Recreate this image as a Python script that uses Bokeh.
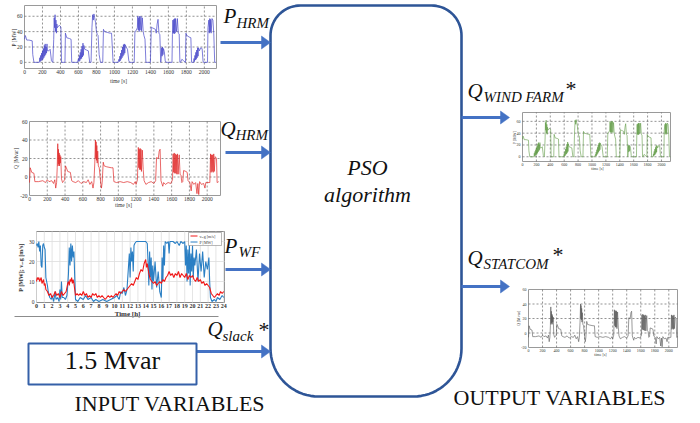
import numpy as np
from bokeh.plotting import figure
from bokeh.models import Range1d
from bokeh.embed import file_html
from bokeh.resources import INLINE
from bokeh.core.properties import value

# ---------------- data ----------------
HRM_XTICKS = [0, 200, 400, 600, 800, 1000, 1200, 1400, 1600, 1800, 2000]
P_YTICKS = [0, 20, 40, 60]
Q_YTICKS = [-20, 0, 20, 40, 60]
WF_XTICKS = list(range(25))
WF_YTICKS = [0, 10, 20, 30]

# P_HRM [MW] vs time [s]
P_HRM_PTS = [
    (0, 30), (8, 35), (15, 33), (25, 29), (50, 29), (86, 28), (92, 10), (105, 0), (160, 0),
    (165, 0), (170, 6), (175, 1), (180, 9), (185, 2), (190, 12), (195, 3), (200, 15), (205, 4),
    (210, 18), (215, 6), (220, 22), (225, 8), (230, 24), (235, 10), (240, 20), (245, 12),
    (250, 24), (255, 15), (270, 15), (285, 17), (300, 2), (315, 0), (325, 30), (330, 58),
    (335, 45), (340, 62), (345, 40), (350, 55), (355, 38), (360, 50), (365, 45), (375, 47),
    (390, 48), (405, 46), (412, 0), (450, 0), (455, 38), (470, 32), (500, 31), (518, 30),
    (525, 0), (590, 0), (600, 5), (605, 1), (610, 9), (615, 2), (620, 13), (625, 4), (630, 17),
    (635, 5), (640, 21), (645, 7), (650, 25), (655, 9), (660, 22), (670, 17), (690, 16),
    (710, 15), (725, 0), (740, 0), (750, 45), (758, 62), (765, 55), (772, 63), (780, 58),
    (790, 52), (800, 40), (810, 36), (818, 35), (830, 10), (845, 0), (870, 0), (878, 43),
    (890, 40), (920, 39), (950, 38), (968, 38), (985, 0), (1040, 0), (1050, 4), (1055, 1),
    (1060, 8), (1065, 2), (1070, 12), (1075, 4), (1080, 16), (1085, 6), (1090, 20), (1095, 8),
    (1100, 23), (1105, 10), (1110, 24), (1115, 12), (1120, 23), (1130, 20), (1145, 17),
    (1160, 2), (1170, 0), (1220, 0), (1228, 40), (1240, 41), (1255, 45), (1260, 60),
    (1265, 42), (1270, 58), (1275, 40), (1280, 60), (1285, 42), (1295, 60), (1300, 41),
    (1310, 58), (1320, 40), (1328, 35), (1340, 30), (1350, 0), (1400, 0), (1410, 46),
    (1420, 45), (1440, 44), (1455, 43), (1465, 38), (1475, 50), (1485, 56), (1495, 38),
    (1505, 36), (1515, 0), (1520, 5), (1525, 19), (1530, 8), (1535, 20), (1540, 10),
    (1545, 18), (1555, 14), (1565, 2), (1575, 0), (1640, 0), (1645, 36), (1650, 55),
    (1655, 38), (1660, 56), (1665, 37), (1670, 57), (1675, 38), (1680, 57), (1690, 40),
    (1700, 57), (1710, 38), (1720, 37), (1728, 0), (1735, 0), (1750, 4), (1770, 2),
    (1790, 0), (1795, 38), (1805, 35), (1830, 33), (1850, 32), (1858, 0), (1880, 0),
    (1885, 5), (1890, 1), (1895, 9), (1900, 3), (1905, 13), (1910, 4), (1915, 16), (1920, 6),
    (1925, 19), (1930, 8), (1935, 19), (1945, 15), (1960, 19), (1975, 18), (1985, 2),
    (1990, 0), (2035, 0), (2040, 45), (2050, 55), (2055, 38), (2060, 57), (2065, 40),
    (2070, 56), (2075, 38), (2085, 57), (2095, 55), (2105, 37), (2115, 0), (2130, 0),
]

# Q_HRM [Mvar] vs time [s]
Q_HRM_PTS = [
    (0, -6), (8, 10), (15, 8), (25, 5), (50, 4), (60, -5), (100, -5), (150, -4), (180, -6),
    (200, -3), (220, -5), (250, -4), (270, -7), (285, -3), (295, -12), (305, -6), (312, 10),
    (318, 36), (322, 12), (326, 30), (330, 14), (334, 26), (338, 12), (342, 24), (346, 15),
    (352, 22), (360, -2), (372, -6), (380, -5), (395, -3), (405, 12), (415, 10), (430, 6),
    (460, 5), (475, -4), (490, -5), (520, -6), (550, -4), (580, -7), (610, -5), (640, -6),
    (660, -3), (680, -8), (700, -5), (715, -12), (725, -6), (735, 15), (742, 40), (746, 20),
    (750, 38), (754, 18), (758, 34), (762, 15), (768, 28), (775, 12), (785, 10), (800, -5),
    (810, -12), (818, -6), (830, 16), (840, 12), (870, 11), (920, 10), (940, 10), (950, -5),
    (980, -6), (1020, -5), (1060, -6), (1100, -5), (1140, -6), (1170, -8), (1190, -5),
    (1200, -8), (1215, -3), (1225, 32), (1230, 10), (1235, 30), (1240, 8), (1245, 31),
    (1250, 8), (1255, 30), (1260, 6), (1270, 29), (1280, 8), (1290, -4), (1310, -8),
    (1340, -6), (1370, -5), (1400, -7), (1420, -4), (1430, 21), (1450, 20), (1460, 28),
    (1470, 30), (1480, -4), (1500, -10), (1510, -6), (1530, -8), (1560, -6), (1590, -7),
    (1610, -3), (1617, 25), (1623, 5), (1629, 26), (1635, 4), (1641, 25), (1647, 4),
    (1653, 24), (1659, 3), (1665, 25), (1673, 3), (1685, 24), (1695, 3), (1705, 2),
    (1715, -6), (1725, -5), (1735, 7), (1760, 6), (1775, 5), (1785, -4), (1805, -6),
    (1820, -15), (1830, -5), (1850, -8), (1870, -6), (1885, -18), (1895, -7), (1905, -19),
    (1915, -5), (1935, -8), (1960, -7), (1975, -12), (1985, -6), (2030, -6), (2038, 25),
    (2044, 5), (2050, 24), (2056, 6), (2062, 24), (2068, 5), (2074, 25), (2080, 6),
    (2090, 22), (2105, 20), (2112, -6), (2130, -5),
]

# wind farm: P [MW] vs hour
WF_P_PTS = [
    (0, 28), (0.1, 29), (0.2, 27), (0.3, 30), (0.4, 25), (0.5, 28), (0.6, 18), (0.7, 17),
    (0.8, 28), (0.9, 29), (1.0, 27), (1.1, 26), (1.2, 12), (1.4, 8), (1.5, 5), (1.7, 2),
    (1.9, 1), (2.0, 3), (2.2, 0), (2.4, 5), (2.5, 1), (2.7, 2), (2.9, 0), (3.0, 6), (3.1, 1),
    (3.2, 10), (3.3, 2), (3.5, 2), (3.7, 1), (3.9, 3), (4.0, 8), (4.1, 14), (4.2, 27),
    (4.3, 18), (4.4, 29), (4.5, 20), (4.6, 28), (4.7, 22), (4.8, 25), (4.9, 12), (5.0, 1),
    (5.3, 0), (5.6, 2), (6.0, 1), (6.3, 3), (6.6, 1), (7.0, 2), (7.3, 0), (7.6, 1), (8.0, 0),
    (8.5, 1), (9.0, 0), (9.5, 1), (10.0, 2), (10.3, 3), (10.6, 1), (10.8, 5), (11.0, 4),
    (11.2, 7), (11.4, 3), (11.6, 6), (11.8, 18), (11.9, 24), (12.0, 12), (12.1, 27),
    (12.2, 20), (12.3, 25), (12.4, 15), (12.5, 28), (12.6, 29), (12.8, 30), (13.0, 30),
    (13.5, 30), (14.0, 30), (14.2, 29), (14.3, 20), (14.4, 8), (14.5, 25), (14.6, 12),
    (14.7, 22), (14.8, 6), (14.9, 18), (15.0, 10), (15.2, 20), (15.4, 7), (15.6, 15),
    (15.8, 5), (16.0, 2), (16.1, 22), (16.2, 10), (16.3, 28), (16.4, 18), (16.5, 30),
    (16.7, 29), (16.9, 30), (17.0, 24), (17.1, 30), (17.5, 30), (17.8, 29), (18.0, 30),
    (18.3, 28), (18.5, 30), (18.8, 29), (19.0, 30), (19.1, 18), (19.2, 28), (19.3, 10),
    (19.4, 26), (19.5, 14), (19.6, 29), (19.7, 8), (19.8, 24), (19.9, 15), (20.0, 28),
    (20.1, 12), (20.2, 22), (20.3, 18), (20.5, 26), (20.7, 10), (20.9, 24), (21.1, 15),
    (21.3, 25), (21.5, 12), (21.7, 20), (21.9, 16), (22.1, 22), (22.2, 10), (22.3, 2),
    (22.5, 0), (22.8, 1), (23.0, 0), (23.2, 2), (23.5, 1), (23.8, 3), (24.0, 2),
]

# wind farm: v_avg [m/s] vs hour
WF_V_PTS = [
    (0, 10), (0.1, 12), (0.2, 11), (0.3, 12), (0.4, 10), (0.5, 11), (0.6, 12), (0.7, 9),
    (0.8, 10), (0.9, 11), (1.0, 8), (1.1, 9), (1.2, 6), (1.4, 5), (1.6, 3), (1.8, 4), (2.0, 2),
    (2.2, 3), (2.4, 5), (2.6, 3), (2.8, 4), (3.0, 2), (3.2, 5), (3.4, 3), (3.6, 4), (3.8, 5),
    (4.0, 9), (4.1, 10), (4.2, 8), (4.3, 11), (4.4, 10), (4.5, 12), (4.6, 9), (4.7, 11),
    (4.8, 9), (4.9, 6), (5.0, 3), (5.2, 4), (5.4, 3), (5.6, 4), (5.8, 3), (6.0, 5), (6.2, 3),
    (6.4, 4), (6.6, 2), (6.8, 3), (7.0, 2), (7.2, 4), (7.4, 3), (7.6, 4), (7.8, 2), (8.0, 3),
    (8.2, 2), (8.4, 3), (8.6, 2), (8.8, 1), (9.0, 2), (9.2, 3), (9.4, 2), (9.6, 3), (9.8, 2),
    (10.0, 3), (10.2, 4), (10.4, 3), (10.6, 5), (10.8, 4), (11.0, 5), (11.2, 6), (11.4, 5),
    (11.6, 6), (11.8, 7), (12.0, 8), (12.2, 9), (12.4, 8), (12.6, 10), (12.8, 12), (13.0, 11),
    (13.2, 14), (13.4, 16), (13.6, 15), (13.8, 19), (14.0, 21), (14.1, 17), (14.2, 19),
    (14.4, 14), (14.6, 11), (14.8, 10), (15.0, 9), (15.2, 10), (15.4, 8), (15.6, 9),
    (15.8, 10), (16.0, 9), (16.2, 11), (16.4, 10), (16.6, 12), (16.8, 13), (17.0, 15),
    (17.2, 13), (17.4, 14), (17.6, 12), (17.8, 14), (18.0, 13), (18.2, 15), (18.4, 12),
    (18.6, 14), (18.8, 13), (19.0, 12), (19.2, 14), (19.4, 11), (19.6, 13), (19.8, 12),
    (20.0, 13), (20.2, 11), (20.4, 10), (20.6, 12), (20.8, 10), (21.0, 11), (21.2, 9),
    (21.4, 10), (21.6, 8), (21.8, 9), (22.0, 8), (22.2, 7), (22.4, 4), (22.6, 3), (22.8, 2),
    (23.0, 3), (23.2, 4), (23.4, 3), (23.6, 5), (23.8, 4), (24.0, 5),
]

P_HRM_T, P_HRM_V = zip(*P_HRM_PTS)
Q_HRM_T, Q_HRM_V = zip(*Q_HRM_PTS)
WF_P_H, WF_P = zip(*WF_P_PTS)
WF_V_H, WF_V = zip(*WF_V_PTS)

# ---------------- canvas ----------------
W, H = 692, 415
X0, X1 = 0, 692
YB, YT = 415, 0
SERIF = value("Liberation Serif")
BASE_SHIFT = 0.47  # correction so that the given y is the visual baseline

p = figure(width=W, height=H, x_range=Range1d(X0, X1), y_range=Range1d(YB, YT),
           output_backend="svg", toolbar_location=None, min_border=0,
           x_axis_type=None, y_axis_type=None)
p.grid.visible = False
p.outline_line_color = None
p.background_fill_color = "white"


def label(xs, ys, texts, size, style="normal", align="left"):
    p.text(x=list(xs), y=[y - BASE_SHIFT * size for y in ys], text=list(texts),
           text_align=align, text_baseline="alphabetic", text_font=SERIF,
           text_font_style=style, text_font_size=f"{size}px", text_color="#111111")


def add_inset(name, box, xr, yr):
    px0, px1, py0, py1 = box
    dx0, dx1 = xr
    dy0, dy1 = yr
    sx = (dx1 - dx0) / (px1 - px0)
    p.extra_x_ranges[name] = Range1d(dx0 - (px0 - X0) * sx, dx1 + (X1 - px1) * sx)
    sy = (dy1 - dy0) / (py1 - py0)
    p.extra_y_ranges[name] = Range1d(dy0 - (YB - py1) * sy, dy1 + (py0 - YT) * sy)
    return dict(x_range_name=name, y_range_name=name)


def hrm_inset(name, box, xr, yr, xs, ys, color, yticks, fs, ylabel, ylab_xy, xlab_xy, lw=0.8):
    kw = add_inset(name, box, xr, yr)
    p.quad(left=[xr[0]], right=[xr[1]], bottom=[yr[0]], top=[yr[1]],
           fill_color="white", line_color="#9a9a9a", line_width=1, **kw)
    gx = [t for t in HRM_XTICKS if t > xr[0]]
    p.segment(x0=gx, x1=gx, y0=[yr[0]] * len(gx), y1=[yr[1]] * len(gx),
              line_color="#666666", line_width=0.7, line_dash="2 2", **kw)
    gy = [t for t in yticks if yr[0] < t < yr[1]]
    p.segment(x0=[xr[0]] * len(gy), x1=[xr[1]] * len(gy), y0=gy, y1=gy,
              line_color="#666666", line_width=0.7, line_dash="2 2", **kw)
    p.line(list(xs), list(ys), line_color=color, line_width=lw, **kw)
    p.text(x=HRM_XTICKS, y=[yr[0]] * len(HRM_XTICKS), text=[str(t) for t in HRM_XTICKS],
           text_align="center", text_baseline="top", y_offset=1.5, text_font=SERIF,
           text_font_size=f"{fs}px", text_color="#333333", **kw)
    p.text(x=[xr[0]] * len(yticks), y=yticks, text=[str(t) for t in yticks],
           text_align="right", text_baseline="middle", x_offset=-2, text_font=SERIF,
           text_font_size=f"{fs}px", text_color="#333333", **kw)
    p.text(x=[ylab_xy[0]], y=[ylab_xy[1]], text=[ylabel], angle=np.pi / 2,
           text_align="center", text_baseline="middle", text_font=SERIF,
           text_font_size=f"{fs}px", text_color="#333333")
    p.text(x=[xlab_xy[0]], y=[xlab_xy[1]], text=["time [s]"], text_align="center",
           text_baseline="middle", text_font=SERIF, text_font_size=f"{fs}px",
           text_color="#333333")


# input insets
hrm_inset("phrm", (24, 216, 5, 68), (0, 2135), (-8, 74), P_HRM_T, P_HRM_V, "#4646c8",
          P_YTICKS, 5.5, "P [MW]", (13, 37), (118, 80), lw=0.7)
hrm_inset("qhrm", (29, 220, 121, 195), (0, 2150), (-20, 60), Q_HRM_T, Q_HRM_V, "#e02828",
          Q_YTICKS, 5.5, "Q [Mvar]", (15, 158), (123, 204), lw=0.7)
# output insets
hrm_inset("qwf", (522, 670, 112, 161), (0, 2130), (-8, 75), P_HRM_T, P_HRM_V, "#5f9a45",
          P_YTICKS, 4, "P [MW]", (514, 137), (597, 168), lw=0.6)
hrm_inset("qst", (528, 677, 289, 347), (0, 2124), (-20, 60), Q_HRM_T, Q_HRM_V, "#555555",
          Q_YTICKS, 4, "Q [Mvar]", (518, 318), (600, 354), lw=0.6)

# wind farm inset
kw = add_inset("pwf", (36, 224, 231, 302), (0, 24.1), (-0.5, 35))
p.quad(left=[0], right=[24.1], bottom=[-0.5], top=[35], fill_color="white",
       line_color="#8a8a8a", line_width=1, **kw)
p.segment(x0=WF_XTICKS, x1=WF_XTICKS, y0=[-0.5] * 25, y1=[35] * 25,
          line_color="#dddddd", line_width=0.8, **kw)
p.segment(x0=[0] * 3, x1=[24.1] * 3, y0=WF_YTICKS[1:], y1=WF_YTICKS[1:],
          line_color="#dddddd", line_width=0.8, **kw)
p.line(list(WF_P_H), list(WF_P), line_color="#2a7fc4", line_width=1.1, **kw)
p.line(list(WF_V_H), list(WF_V), line_color="#f01818", line_width=1.1, **kw)
p.text(x=WF_XTICKS, y=[-0.5] * 25, text=[str(h) for h in WF_XTICKS], text_align="center",
       text_baseline="top", y_offset=1, text_font=SERIF, text_font_style="bold",
       text_font_size="6px", text_color="#333333", **kw)
p.text(x=[0] * 4, y=WF_YTICKS, text=[str(v) for v in WF_YTICKS], text_align="right",
       text_baseline="middle", x_offset=-2, text_font=SERIF, text_font_size="5.5px",
       text_color="#333333", **kw)
p.text(x=[20], y=[267], text=["P [MW]; v\u2090\u1d65g [m/s]"], angle=np.pi / 2,
       text_align="center", text_baseline="middle", text_font=SERIF,
       text_font_style="bold", text_font_size="6px", text_color="#333333")
p.text(x=[127], y=[313], text=["Time [h]"], text_align="center", text_baseline="middle",
       text_font=SERIF, text_font_style="bold", text_font_size="7px", text_color="#333333")
# legend
p.quad(left=[188], right=[221], bottom=[245], top=[232], fill_color="white",
       line_color="#888888", line_width=0.6)
p.segment(x0=[190, 190], x1=[197, 197], y0=[235.5, 241.5], y1=[235.5, 241.5],
          line_color=["#f01818", "#2a7fc4"], line_width=1)
p.text(x=[199, 199], y=[235.5, 241.5], text=["v\u2090\u1d65g [m/s]", "P [MW]"],
       text_baseline="middle", text_font=SERIF, text_font_size="4px", text_color="#333333")
p.segment(x0=[14], x1=[218], y0=[316], y1=[316], line_color="#8c8c8c", line_width=1)

# ---------------- diagram ----------------
BOX_COLOR = "#2e5597"
ARROW_COLOR = "#4472c4"


def arc(cx, cy, r, a0, a1):
    a = np.linspace(a0, a1, 20)
    return list(cx + r * np.cos(a)), list(cy + r * np.sin(a))


bx0, bx1, by0, by1, rt, rb = 270, 461, 5, 396, 30, 48
xs, ys = [], []
for cx, cy, r, a0, a1 in [(bx0 + rt, by0 + rt, rt, np.pi, 1.5 * np.pi),
                          (bx1 - rt, by0 + rt, rt, 1.5 * np.pi, 2 * np.pi),
                          (bx1 - rb, by1 - rb, rb, 0, 0.5 * np.pi),
                          (bx0 + rb, by1 - rb, rb, 0.5 * np.pi, np.pi)]:
    ax, ay = arc(cx, cy, r, a0, a1)
    xs += ax
    ys += ay
xs.append(xs[0])
ys.append(ys[0])
p.line(xs, ys, line_color=BOX_COLOR, line_width=2.6)

# arrows
arrows = [(220, 270, 42), (225, 270, 152), (225, 270, 269), (196, 270, 351),
          (461, 509, 117), (461, 509, 286)]
p.segment(x0=[a[0] for a in arrows], x1=[a[1] - 8 for a in arrows],
          y0=[a[2] for a in arrows], y1=[a[2] for a in arrows],
          line_color=ARROW_COLOR, line_width=3)
p.patches(xs=[[a[1] - 9, a[1], a[1] - 9] for a in arrows],
          ys=[[a[2] - 6.5, a[2], a[2] + 6.5] for a in arrows],
          fill_color=ARROW_COLOR, line_color=ARROW_COLOR, line_width=0.5)

# 1.5 Mvar box
p.quad(left=[28], right=[196], top=[343], bottom=[384], fill_color=None,
       line_color="#3560a8", line_width=2)
label([112], [372], ["1.5 Mvar"], 26, align="center")

# variable names (main letter + subscript)
big = [("P", 223, 25), ("Q", 220, 138), ("P", 224, 255), ("Q", 207, 338),
       ("Q", 467, 100), ("Q", 467, 267)]
label([b[1] for b in big], [b[2] for b in big], [b[0] for b in big], 21, style="italic")
subs = [("HRM", 236, 30), ("HRM", 235, 142), ("WF", 238, 259), ("slack", 222, 343),
        ("WIND FARM", 483, 104), ("STATCOM", 483, 271)]
label([s[1] for s in subs], [s[2] for s in subs], [s[0] for s in subs], 15, style="italic")
stars = [(258, 339), (565, 98), (552, 264)]
label([s[0] for s in stars], [s[1] for s in stars], ["*"] * 3, 22)

label([367, 367], [177, 204], ["PSO", "algorithm"], 22, style="italic", align="center")
label([74, 453], [413, 407], ["INPUT VARIABLES", "OUTPUT VARIABLES"], 22)

open("out.html", "w").write(file_html(p, INLINE))
